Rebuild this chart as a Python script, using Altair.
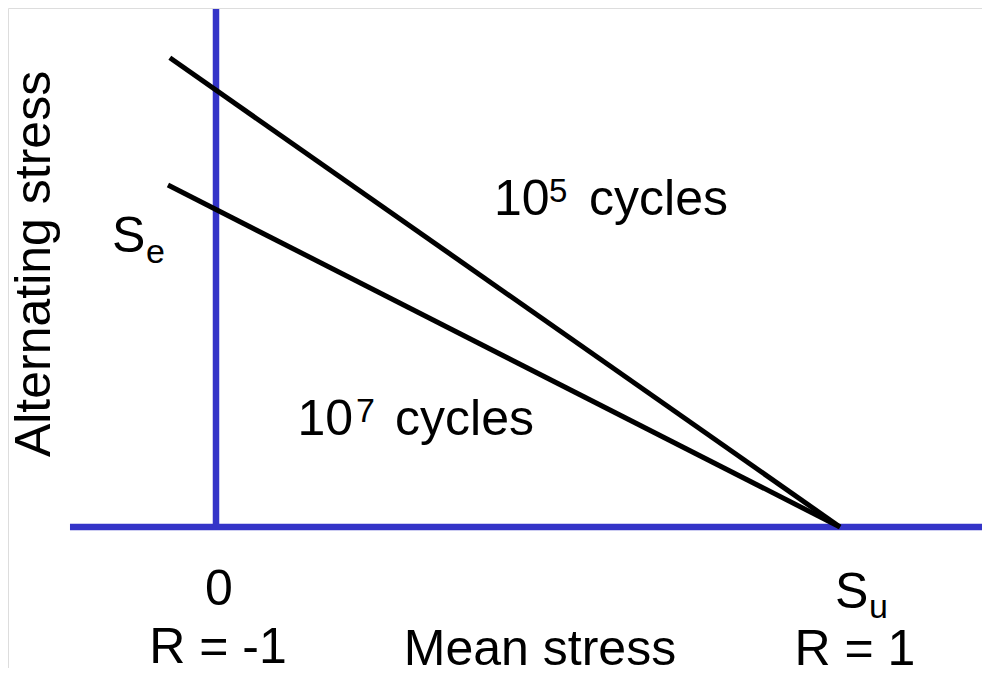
import altair as alt
import pandas as pd

# Goodman-type lines (mean stress, alternating stress), in units of Su
line_series = ["10^5 cycles", "10^5 cycles", "10^7 cycles", "10^7 cycles"]
line_mean = [-0.074, 1.0, -0.077, 1.0]
line_alt = [0.752, 0.0, 0.548, 0.0]

# axis lines drawn in blue
vaxis_x = [0.0]
vaxis_y = [-0.005]
vaxis_y2 = [0.830]
haxis_y = [0.0]
haxis_x = [-0.234]
haxis_x2 = [1.26]

# text pieces (left aligned): text, x, y, font size
left_text = ["10", "5", "cycles", "10", "7", "cycles", "S", "e", "S", "u"]
left_x = [0.4455, 0.5337, 0.5978, 0.1306, 0.2244, 0.2869, -0.1667, -0.1122, 0.9920, 1.0465]
left_y = [0.5000, 0.5208, 0.5000, 0.1474, 0.1683, 0.1474, 0.4407, 0.4231, -0.1298, -0.1458]
left_fs = [50, 33, 50, 50, 34, 50, 50, 34, 50, 34]

# centered labels
center_text = ["0", "R = -1", "Mean stress", "R = 1", "Alternating stress"]
center_x = [0.0048, 0.0032, 0.5192, 1.024, -0.266]
center_y = [-0.125, -0.2179, -0.2212, -0.2212, 0.4215]
center_angle = [0, 0, 0, 0, 270]

X_DOMAIN = [-0.33333, 1.22756]
Y_DOMAIN = [-0.22596, 0.83173]
xs = alt.Scale(domain=X_DOMAIN, nice=False, zero=False)
ys = alt.Scale(domain=Y_DOMAIN, nice=False, zero=False)
BLUE = "#3434C8"
FONT = "Liberation Sans"

lines_df = pd.DataFrame({"series": line_series, "m": line_mean, "a": line_alt})
v_df = pd.DataFrame({"x": vaxis_x, "y": vaxis_y, "y2": vaxis_y2})
h_df = pd.DataFrame({"y": haxis_y, "x": haxis_x, "x2": haxis_x2})
lt_df = pd.DataFrame({"t": left_text, "x": left_x, "y": left_y, "fs": left_fs})
ct_df = pd.DataFrame({"t": center_text, "x": center_x, "y": center_y, "ang": center_angle})

vline = alt.Chart(v_df).mark_rule(color=BLUE, strokeWidth=6.5).encode(
    x=alt.X("x:Q", scale=xs, axis=None),
    y=alt.Y("y:Q", scale=ys, axis=None),
    y2="y2:Q",
)
hline = alt.Chart(h_df).mark_rule(color=BLUE, strokeWidth=6.5).encode(
    x=alt.X("x:Q", scale=xs, axis=None),
    x2="x2:Q",
    y=alt.Y("y:Q", scale=ys, axis=None),
)
glines = alt.Chart(lines_df).mark_line(color="black", strokeWidth=5, strokeCap="butt").encode(
    x=alt.X("m:Q", scale=xs, axis=None),
    y=alt.Y("a:Q", scale=ys, axis=None),
    detail="series:N",
)
ltext = alt.Chart(lt_df).mark_text(
    align="left", baseline="alphabetic", font=FONT, color="black"
).encode(
    x=alt.X("x:Q", scale=xs, axis=None),
    y=alt.Y("y:Q", scale=ys, axis=None),
    text="t:N",
    size=alt.Size("fs:Q", scale=None, legend=None),
)
ctext = alt.Chart(ct_df).mark_text(
    align="center", baseline="alphabetic", font=FONT, color="black", fontSize=50
).encode(
    x=alt.X("x:Q", scale=xs, axis=None),
    y=alt.Y("y:Q", scale=ys, axis=None),
    text="t:N",
    angle=alt.Angle("ang:Q", scale=None, legend=None),
)

chart = (
    alt.layer(hline, vline, glines, ltext, ctext)
    .properties(width=974, height=660, autosize=alt.AutoSizeParams(type="none"), padding=0)
    .configure_view(strokeWidth=0, stroke="transparent")
    .configure(background="white")
)

chart.save("out.html", embed_options={"renderer": "svg", "actions": False})
